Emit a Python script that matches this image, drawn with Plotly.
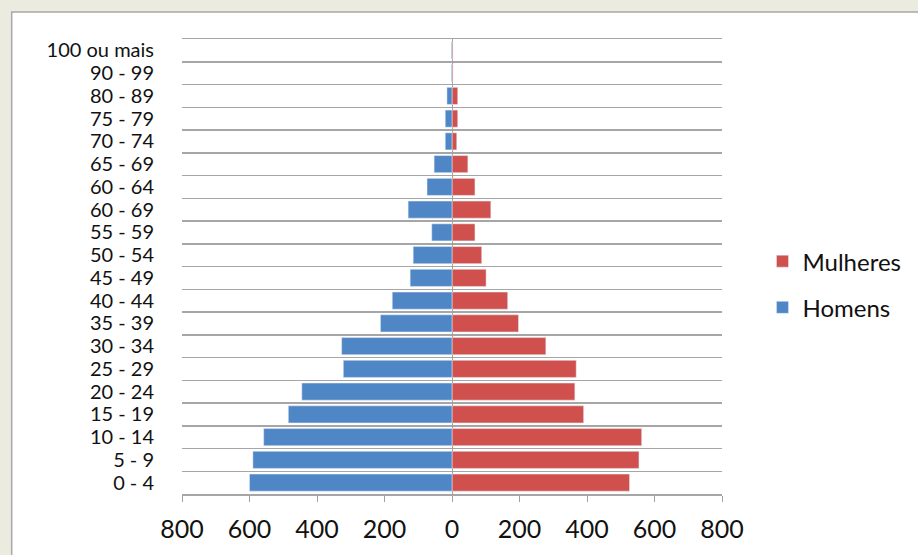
import plotly.graph_objects as go

faixas = ["0 - 4", "5 - 9", "10 - 14", "15 - 19", "20 - 24", "25 - 29", "30 - 34",
          "35 - 39", "40 - 44", "45 - 49", "50 - 54", "55 - 59", "60 - 69", "60 - 64",
          "65 - 69", "70 - 74", "75 - 79", "80 - 89", "90 - 99", "100 ou mais"]
homens = [600, 590, 558, 485, 445, 322, 327, 212, 177, 124, 115, 60, 130, 74, 53, 20, 20, 15, 2, 2]
mulheres = [526, 554, 562, 390, 364, 368, 278, 197, 165, 101, 88, 68, 115, 68, 47, 14, 17, 17, 3, 3]
x_ticks = [-800, -600, -400, -200, 0, 200, 400, 600, 800]
x_labels = [str(abs(v)) for v in x_ticks]

FONT = "Lato"
TXT = "#111111"
L, R, T, B = 182, 189, 39, 52
PW, PH = 918 - L - R, 555 - T - B

fig = go.Figure()
fig.add_trace(go.Bar(y=faixas, x=mulheres, orientation="h", name="Mulheres",
                     marker=dict(color="#D0504D"), legendgroup="m"))
fig.add_trace(go.Bar(y=faixas, x=[-v for v in homens], orientation="h", name="Homens",
                     marker=dict(color="#4F86C6"), legendgroup="h"))

fig.update_layout(
    width=918, height=555,
    margin=dict(l=L, r=R, t=T, b=B),
    barmode="relative", bargap=0.25,
    paper_bgcolor="#ECEBE0", plot_bgcolor="white",
    font=dict(family=FONT, size=20, color=TXT),
    showlegend=True,
    legend=dict(x=(770 - L) / PW, y=(555 - B - 243) / PH, xanchor="left", yanchor="top",
                traceorder="grouped", tracegroupgap=12,
                font=dict(family=FONT, size=24, color=TXT),
                bgcolor="rgba(0,0,0,0)", itemwidth=30),
    shapes=[dict(type="rect", xref="paper", yref="paper",
                 x0=(9.5 - L) / PW, x1=(935 - L) / PW,
                 y0=(555 - B - 580) / PH, y1=(555 - B - 11.5) / PH,
                 fillcolor="white", line=dict(color="#A8A8A8", width=1.5),
                 layer="below")],
)
fig.update_xaxes(range=[-800, 800], tickvals=x_ticks, ticktext=x_labels,
                 showgrid=False, zeroline=True, zerolinecolor="#A0A0A0", zerolinewidth=1,
                 showline=True, mirror=True, linecolor="#A6A6A6", linewidth=1.5,
                 ticks="outside", ticklen=6, tickcolor="#A0A0A0",
                 tickfont=dict(family=FONT, size=25, color=TXT),
                 ticklabelstandoff=6, fixedrange=True)
fig.update_yaxes(type="category", tickson="boundaries", tickmode="linear", tick0=0, dtick=1,
                 showgrid=True, gridcolor="#A6A6A6", gridwidth=1.5, ticks="",
                 tickfont=dict(family=FONT, size=20, color=TXT),
                 ticklabelstandoff=27, fixedrange=True)

fig.write_html(
    "out.html", config={"displayModeBar": False, "staticPlot": True},
    post_script=(
        "var s=document.documentElement.style;s.margin='0';s.padding='0';s.overflow='hidden';"
        "var b=document.body.style;b.margin='0';b.padding='0';b.overflow='hidden';"
    ),
)
